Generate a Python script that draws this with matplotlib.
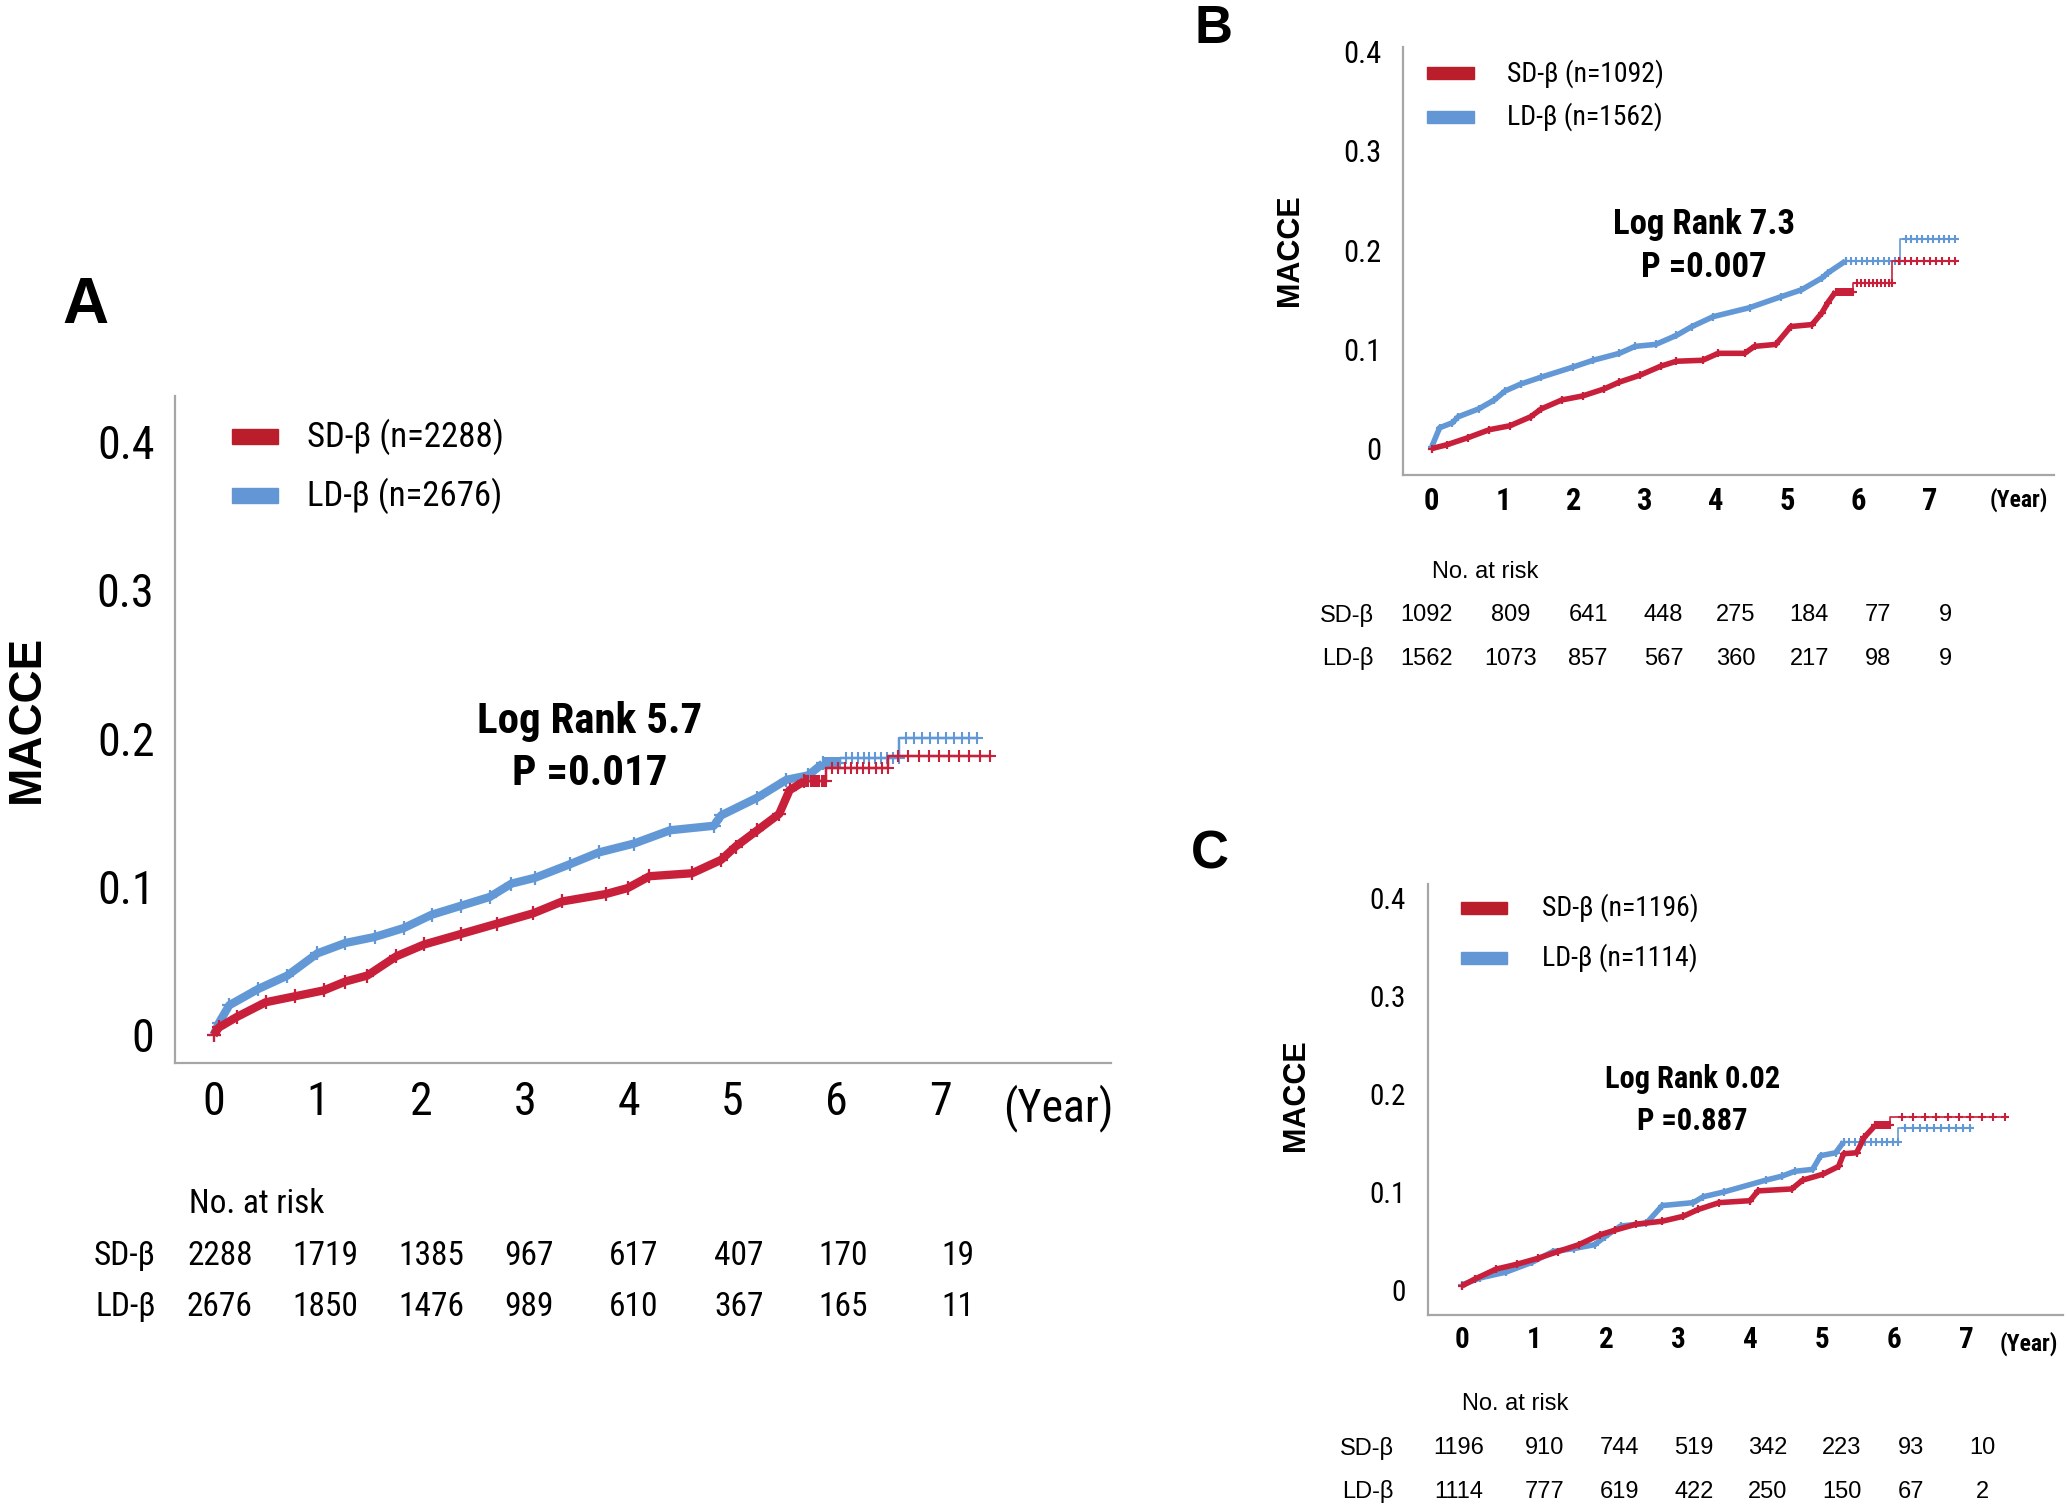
import numpy as np
import matplotlib.pyplot as plt
from matplotlib.patches import Rectangle

NARROW = ['Liberation Sans Narrow', 'Roboto Condensed', 'Roboto', 'DejaVu Sans']
ARIAL = ['Liberation Sans', 'DejaVu Sans']
RED = '#C8203A'
BLUE = '#6398D6'
RED_LEG = '#BA1E2B'
BLUE_LEG = '#6396D4'
SPINE = '#A6A6A6'

years = [0, 1, 2, 3, 4, 5, 6, 7]
yticks = [0, 0.1, 0.2, 0.3, 0.4]
ytick_labels = ['0', '0.1', '0.2', '0.3', '0.4']

# ---- panel A: all patients
a_sd_t = [0, 0.05, 0.22, 0.5, 0.78, 1.06, 1.27, 1.48, 1.76, 2.03, 2.38, 2.73, 3.08, 3.36, 3.78,
          3.99, 4.2, 4.61, 4.89, 5.03, 5.24, 5.45, 5.55, 5.69, 5.9, 6.5, 7.48]
a_sd_v = [0, 0.005, 0.012, 0.022, 0.026, 0.030, 0.036, 0.040, 0.053, 0.061, 0.068, 0.075, 0.082,
          0.090, 0.095, 0.099, 0.107, 0.109, 0.118, 0.127, 0.138, 0.149, 0.165, 0.171, 0.180,
          0.188, 0.188]
a_ld_t = [0, 0.05, 0.15, 0.43, 0.71, 1.0, 1.27, 1.55, 1.83, 2.1, 2.38, 2.66, 2.87, 3.1, 3.43,
          3.71, 4.05, 4.4, 4.82, 4.89, 5.24, 5.52, 5.73, 5.87, 6.04, 6.6, 7.36]
a_ld_v = [0, 0.008, 0.02, 0.031, 0.040, 0.055, 0.062, 0.066, 0.072, 0.081, 0.087, 0.093, 0.102,
          0.106, 0.115, 0.123, 0.129, 0.138, 0.141, 0.148, 0.160, 0.172, 0.175, 0.183, 0.187,
          0.200, 0.200]
a_sd_risk = [2288, 1719, 1385, 967, 617, 407, 170, 19]
a_ld_risk = [2676, 1850, 1476, 989, 610, 367, 165, 11]

# ---- panel B
b_sd_t = [0, 0.22, 0.51, 0.81, 1.1, 1.39, 1.54, 1.83, 2.12, 2.42, 2.64, 2.93, 3.22, 3.44, 3.81,
          4.03, 4.4, 4.54, 4.84, 5.05, 5.35, 5.49, 5.57, 5.68, 5.93, 6.48, 7.36]
b_sd_v = [0, 0.004, 0.011, 0.019, 0.023, 0.032, 0.040, 0.049, 0.053, 0.060, 0.067, 0.074, 0.083,
          0.088, 0.089, 0.096, 0.096, 0.103, 0.105, 0.123, 0.125, 0.137, 0.147, 0.158, 0.167,
          0.189, 0.189]
b_ld_t = [0, 0.11, 0.29, 0.37, 0.66, 0.88, 1.03, 1.25, 1.54, 1.98, 2.27, 2.64, 2.86, 3.15, 3.44,
          3.66, 3.96, 4.47, 4.91, 5.2, 5.49, 5.57, 5.82, 6.59, 7.36]
b_ld_v = [0.002, 0.021, 0.026, 0.032, 0.040, 0.049, 0.058, 0.065, 0.072, 0.082, 0.089, 0.096,
          0.103, 0.105, 0.114, 0.123, 0.133, 0.142, 0.153, 0.160, 0.172, 0.177, 0.189, 0.211,
          0.211]
b_sd_risk = [1092, 809, 641, 448, 275, 184, 77, 9]
b_ld_risk = [1562, 1073, 857, 567, 360, 217, 98, 9]

# ---- panel C
c_sd_t = [0, 0.18, 0.47, 0.76, 1.05, 1.33, 1.62, 1.91, 2.13, 2.42, 2.78, 3.07, 3.28, 3.57, 4.0,
          4.11, 4.58, 4.73, 5.01, 5.23, 5.3, 5.48, 5.59, 5.74, 5.95, 7.54]
c_sd_v = [0.004, 0.011, 0.021, 0.026, 0.032, 0.039, 0.046, 0.056, 0.061, 0.067, 0.070, 0.075,
          0.082, 0.089, 0.091, 0.101, 0.103, 0.112, 0.118, 0.126, 0.139, 0.140, 0.156, 0.168,
          0.177, 0.177]
c_ld_t = [0, 0.25, 0.61, 0.97, 1.26, 1.55, 1.84, 1.98, 2.2, 2.56, 2.78, 3.21, 3.35, 3.64, 4.22,
          4.44, 4.62, 4.87, 4.98, 5.19, 5.3, 6.06, 7.06]
c_ld_v = [0.005, 0.012, 0.018, 0.028, 0.039, 0.042, 0.046, 0.054, 0.065, 0.068, 0.086, 0.089,
          0.095, 0.100, 0.112, 0.116, 0.121, 0.123, 0.137, 0.140, 0.151, 0.165, 0.165]
c_sd_risk = [1196, 910, 744, 519, 342, 223, 93, 10]
c_ld_risk = [1114, 777, 619, 422, 250, 150, 67, 2]

panels = [
    dict(letter='A', rect=[0.0848, 0.2955, 0.4528, 0.4423], xlim=(-0.37, 8.65), ylim=(-0.019, 0.431),
         sd=(a_sd_t, a_sd_v), ld=(a_ld_t, a_ld_v), n=(2288, 2676), risk=(a_sd_risk, a_ld_risk),
         logrank='Log Rank 5.7', p='P =0.017', stat_xy=(3.62, 0.211, 0.176), stat_fs=31,
         tick_fs=33, tick_bold=False, xtick_pad=12, ytick_pad=15, year_xy=(8.14, -0.068), year_fs=33,
         year_bold=False, lw=6.0,
         leg=dict(px=0.061, tx=0.141, y=(0.939, 0.850), w=0.049, h=0.022, fs=25),
         ylab_xy=(0.013, 0.5236), ylab_fs=33, letter_xy=(0.0415, 0.797), letter_fs=46,
         cols=[0.06, 1.08, 2.1, 3.04, 4.05, 5.06, 6.07, 7.17], rows=(-0.2115, -0.2885, -0.3656),
         label_x=-0.56, nar_x=-0.24, tab_font=NARROW, tab_fs=24),
    dict(letter='B', rect=[0.6786, 0.685, 0.315, 0.284], xlim=(-0.41, 8.75), ylim=(-0.027, 0.405),
         sd=(b_sd_t, b_sd_v), ld=(b_ld_t, b_ld_v), n=(1092, 1562), risk=(b_sd_risk, b_ld_risk),
         logrank='Log Rank 7.3', p='P =0.007', stat_xy=(3.83, 0.2255, 0.1826), stat_fs=25,
         tick_fs=22, tick_bold=True, xtick_pad=8, ytick_pad=15, year_xy=(8.26, -0.058), year_fs=17,
         year_bold=True, lw=4.0,
         leg=dict(px=0.038, tx=0.16, y=(0.938, 0.837), w=0.071, h=0.028, fs=20),
         ylab_xy=(0.624, 0.834), ylab_fs=22, letter_xy=(0.587, 0.981), letter_fs=38,
         cols=[-0.07, 1.11, 2.2, 3.26, 4.28, 5.31, 6.28, 7.22], rows=(-0.2246, -0.326, -0.428),
         label_x=-0.82, nar_x=0.0, tab_font=ARIAL, tab_fs=17),
    dict(letter='C', rect=[0.6907, 0.1285, 0.3074, 0.2858], xlim=(-0.48, 8.35), ylim=(-0.026, 0.415),
         sd=(c_sd_t, c_sd_v), ld=(c_ld_t, c_ld_v), n=(1196, 1114), risk=(c_sd_risk, c_ld_risk),
         logrank='Log Rank 0.02', p='P =0.887', stat_xy=(3.2, 0.2155, 0.172), stat_fs=22,
         tick_fs=21, tick_bold=True, xtick_pad=8, ytick_pad=16, year_xy=(7.88, -0.066), year_fs=17,
         year_bold=True, lw=4.0,
         leg=dict(px=0.052, tx=0.18, y=(0.945, 0.829), w=0.073, h=0.028, fs=20),
         ylab_xy=(0.627, 0.2745), ylab_fs=22, letter_xy=(0.5855, 0.434), letter_fs=38,
         cols=[-0.05, 1.15, 2.18, 3.22, 4.25, 5.27, 6.23, 7.23], rows=(-0.205, -0.309, -0.41),
         label_x=-0.95, nar_x=0.0, tab_font=ARIAL, tab_fs=17),
]

fig = plt.figure(figsize=(20.67, 15.09), dpi=100)

for pn in panels:
    ax = fig.add_axes(pn['rect'])
    for (t, v), col, z in [(pn['ld'], BLUE, 2), (pn['sd'], RED, 3)]:
        t = np.array(t)
        v = np.array(v)
        k = int((t < 5.88).sum())
        # early part: many tiny steps and censor marks -> a thick ragged band
        ax.plot(t[:k], v[:k], color=col, lw=pn['lw'], zorder=z, solid_capstyle='butt')
        ax.plot(t[:k], v[:k], '+', color=col, ms=pn['lw'] * 1.6, mew=1.6, zorder=z)
        # late part: flat steps with sparse censor marks
        ax.step(t[k - 1:], v[k - 1:], where='post', color=col, lw=pn['lw'] * 0.3, zorder=z)
        for i in range(k - 1, len(t) - 1):
            ax.plot(np.linspace(t[i], t[i + 1], 11)[1:], [v[i]] * 10, '+', color=col,
                    ms=pn['lw'] * 1.4, mew=1.5, zorder=z)

    ax.set_xlim(*pn['xlim'])
    ax.set_ylim(*pn['ylim'])
    for s in ['top', 'right']:
        ax.spines[s].set_visible(False)
    for s in ['left', 'bottom']:
        ax.spines[s].set_color(SPINE)
        ax.spines[s].set_linewidth(1.6)
    ax.set_xticks(years)
    ax.set_xticklabels([str(y) for y in years], family=NARROW, fontsize=pn['tick_fs'],
                       fontweight='bold' if pn['tick_bold'] else 'normal')
    ax.set_yticks(yticks)
    ax.set_yticklabels(ytick_labels, family=NARROW, fontsize=pn['tick_fs'])
    ax.tick_params(axis='x', length=0, pad=pn['xtick_pad'])
    ax.tick_params(axis='y', length=0, pad=pn['ytick_pad'])

    ax.text(pn['year_xy'][0], pn['year_xy'][1], '(Year)', transform=ax.get_xaxis_transform(),
            ha='center', va='center', family=NARROW, fontsize=pn['year_fs'],
            fontweight='bold' if pn['year_bold'] else 'normal')

    sx, sy1, sy2 = pn['stat_xy']
    ax.text(sx, sy1, pn['logrank'], ha='center', va='center', family=NARROW,
            fontsize=pn['stat_fs'], fontweight='bold')
    ax.text(sx, sy2, pn['p'], ha='center', va='center', family=NARROW,
            fontsize=pn['stat_fs'], fontweight='bold')

    lg = pn['leg']
    for yy, c, lab, nn in [(lg['y'][0], RED_LEG, 'SD-β', pn['n'][0]),
                           (lg['y'][1], BLUE_LEG, 'LD-β', pn['n'][1])]:
        ax.add_patch(Rectangle((lg['px'], yy - lg['h'] / 2), lg['w'], lg['h'],
                               transform=ax.transAxes, color=c, clip_on=False))
        ax.text(lg['tx'], yy, f'{lab} (n={nn})', transform=ax.transAxes, ha='left', va='center',
                family=NARROW, fontsize=lg['fs'])

    # number at risk table
    tr = ax.get_xaxis_transform()
    r0, r1, r2 = pn['rows']
    ax.text(pn['nar_x'], r0, 'No. at risk', transform=tr, ha='left', va='center',
            family=pn['tab_font'], fontsize=pn['tab_fs'], clip_on=False)
    for yy, lab, vals in [(r1, 'SD-β', pn['risk'][0]), (r2, 'LD-β', pn['risk'][1])]:
        ax.text(pn['label_x'], yy, lab, transform=tr, ha='right', va='center',
                family=pn['tab_font'], fontsize=pn['tab_fs'])
        for x, val in zip(pn['cols'], vals):
            ax.text(x, yy, str(val), transform=tr, ha='center', va='center',
                    family=pn['tab_font'], fontsize=pn['tab_fs'])

    fig.text(pn['ylab_xy'][0], pn['ylab_xy'][1], 'MACCE', rotation=90, ha='center', va='center',
             family=ARIAL, fontsize=pn['ylab_fs'], fontweight='bold')
    fig.text(pn['letter_xy'][0], pn['letter_xy'][1], pn['letter'], ha='center', va='center',
             family=ARIAL, fontsize=pn['letter_fs'], fontweight='bold')

fig.savefig('out.png', dpi=100)
